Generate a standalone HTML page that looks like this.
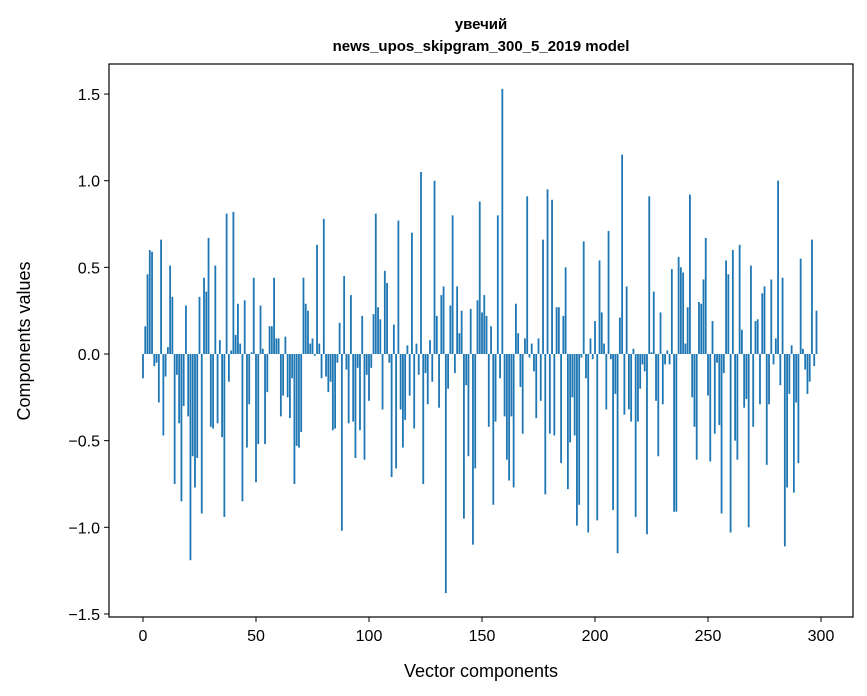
<!DOCTYPE html>
<html><head><meta charset="utf-8"><style>
html,body{margin:0;padding:0;background:#fff;}
svg{display:block;font-family:"Liberation Sans","DejaVu Sans",sans-serif;}
</style></head><body>
<svg id="chart" width="867" height="696" viewBox="0 0 867 696">
<text x="481" y="29" text-anchor="middle" font-size="15" font-weight="bold">увечий</text>
<text x="481" y="51" text-anchor="middle" font-size="15" font-weight="bold">news_upos_skipgram_300_5_2019 model</text>
<g id="bars"></g>
<g id="axes"></g>
<text x="481" y="677" text-anchor="middle" font-size="18">Vector components</text>
<text transform="translate(30,341) rotate(-90)" text-anchor="middle" font-size="18">Components values</text>
</svg>
<script>
const values = [-0.14,0.16,0.46,0.60,0.59,-0.07,-0.05,-0.28,0.66,-0.47,-0.13,0.04,0.51,0.33,-0.75,-0.12,-0.40,-0.85,-0.30,0.28,-0.36,-1.19,-0.59,-0.77,-0.60,0.33,-0.92,0.44,0.36,0.67,-0.42,-0.43,0.51,-0.40,0.08,-0.48,-0.94,0.81,-0.16,0.02,0.82,0.11,0.29,0.06,-0.85,0.31,-0.54,-0.29,0.01,0.44,-0.74,-0.52,0.28,0.03,-0.52,-0.22,0.16,0.16,0.44,0.09,0.09,-0.36,-0.24,0.10,-0.25,-0.37,-0.14,-0.75,-0.53,-0.54,-0.45,0.44,0.29,0.25,0.06,0.09,-0.01,0.63,0.06,-0.14,0.78,-0.13,-0.22,-0.16,-0.44,-0.43,-0.05,0.18,-1.02,0.45,-0.09,-0.40,0.34,-0.39,-0.60,-0.08,-0.44,0.22,-0.61,-0.12,-0.27,-0.08,0.23,0.81,0.27,0.20,-0.32,0.48,0.41,-0.05,-0.71,0.17,-0.66,0.77,-0.32,-0.54,-0.38,0.05,-0.24,0.70,-0.43,0.06,-0.12,1.05,-0.75,-0.11,-0.29,0.08,-0.16,1.00,0.22,-0.31,0.34,0.39,-1.38,-0.20,0.28,0.80,-0.11,0.39,0.12,0.25,-0.95,-0.18,-0.59,0.26,-1.10,-0.66,0.31,0.88,0.24,0.34,0.22,-0.42,0.16,-0.87,-0.39,0.80,-0.14,1.53,-0.36,-0.61,-0.73,-0.36,-0.77,0.29,0.12,-0.19,-0.46,0.09,0.91,-0.02,0.06,-0.10,-0.37,0.09,-0.27,0.66,-0.81,0.95,-0.46,0.89,-0.47,0.27,0.27,-0.63,0.22,0.50,-0.78,-0.51,-0.25,-0.47,-0.99,-0.87,-0.02,0.65,-0.14,-1.03,0.09,-0.03,0.19,-0.96,0.54,0.24,0.06,-0.32,0.71,-0.03,-0.90,-0.23,-1.15,0.21,1.15,-0.35,0.39,-0.32,-0.39,0.03,-0.94,-0.39,-0.20,-0.06,-0.10,-1.04,0.91,0.01,0.36,-0.27,-0.59,0.24,-0.29,-0.06,0.02,-0.06,0.49,-0.91,-0.91,0.56,0.50,0.47,0.06,0.27,0.92,-0.25,-0.42,-0.61,0.30,0.29,0.43,0.67,-0.24,-0.62,0.19,-0.46,-0.05,-0.41,-0.92,-0.11,0.54,0.46,-1.03,0.60,-0.50,-0.61,0.63,0.14,-0.31,-0.26,-1.00,0.51,-0.42,0.19,0.20,-0.29,0.35,0.39,-0.64,-0.29,0.43,-0.06,0.09,1.00,-0.18,0.44,-1.11,-0.77,-0.23,0.05,-0.80,-0.28,-0.63,0.55,0.03,-0.09,-0.23,-0.16,0.66,-0.07,0.25];
const xTicks = [0,50,100,150,200,250,300];
const yTicks = [-1.5,-1.0,-0.5,0.0,0.5,1.0,1.5];
const yTickLabels = ["\u22121.5","\u22121.0","\u22120.5","0.0","0.5","1.0","1.5"];

const NS = "http://www.w3.org/2000/svg";
const L=109,R=853,T=64,B=617;
function xs(v){return 143 + v*(821-143)/300;}
function ys(v){return 354 - v*173.3;}
const bars=document.getElementById('bars');
const bw=0.8*(821-143)/300;
values.forEach((v,i)=>{
  const r=document.createElementNS(NS,'rect');
  
  
  const y0=ys(0),y1=ys(v);
  r.setAttribute('x',xs(i)-bw/2);
  r.setAttribute('y',Math.min(y0,y1));
  r.setAttribute('width',bw);
  r.setAttribute('height',Math.max(Math.abs(y1-y0),0.3));
  r.setAttribute('fill','#1f77b4');
  bars.appendChild(r);
});
const axes=document.getElementById('axes');
const frame=document.createElementNS(NS,'rect');


frame.setAttribute('x',L);frame.setAttribute('y',T);
frame.setAttribute('width',R-L);frame.setAttribute('height',B-T);
frame.setAttribute('fill','none');frame.setAttribute('stroke','#000');frame.setAttribute('stroke-width','1.2');
axes.appendChild(frame);
xTicks.forEach(t=>{
  const x=xs(t);
  const ln=document.createElementNS(NS,'line');
  
  
  ln.setAttribute('x1',x);ln.setAttribute('x2',x);ln.setAttribute('y1',B);ln.setAttribute('y2',B+5);
  ln.setAttribute('stroke','#000');
  axes.appendChild(ln);
  const tx=document.createElementNS(NS,'text');
  
  
  tx.setAttribute('x',x);tx.setAttribute('y',B+24);
  tx.setAttribute('text-anchor','middle');tx.setAttribute('font-size','16');
  tx.textContent=t;
  axes.appendChild(tx);
});
yTicks.forEach((t,k)=>{
  const y=ys(t);
  const ln=document.createElementNS(NS,'line');
  
  
  ln.setAttribute('x1',L-5);ln.setAttribute('x2',L);ln.setAttribute('y1',y);ln.setAttribute('y2',y);
  ln.setAttribute('stroke','#000');
  axes.appendChild(ln);
  const tx=document.createElementNS(NS,'text');
  
  
  tx.setAttribute('x',L-9);tx.setAttribute('y',y+6);
  tx.setAttribute('text-anchor','end');tx.setAttribute('font-size','16');
  tx.textContent=yTickLabels[k];
  axes.appendChild(tx);
});
</script>
</body></html>
